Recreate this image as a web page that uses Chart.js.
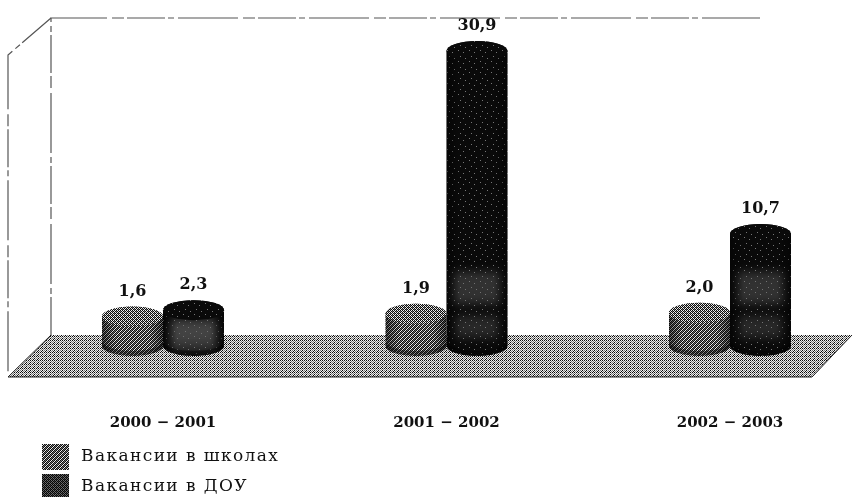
<!DOCTYPE html>
<html><head><meta charset="utf-8">
<style>html,body{margin:0;padding:0;background:#fff;overflow:hidden}#wrap{width:853px;height:499px;position:relative}</style>
<script src="https://cdn.jsdelivr.net/npm/chart.js@4/dist/chart.umd.min.js"></script>
</head><body><div id="wrap"><canvas id="c" width="853" height="499"></canvas></div>
<script>
const years=['2000 − 2001','2001 − 2002','2002 − 2003'];
const schoolVacancies=[1.6,1.9,2.0];
const preschoolVacancies=[2.3,30.9,10.7];
const seriesNames=['Вакансии в школах','Вакансии в ДОУ'];
const yFloor=-1.66, yTop=34;
const serif='"DejaVu Serif","Liberation Serif",serif';

// small halftone tiles, the scan is all black dots on white
function tile(rows){
  const n=rows.length,t=document.createElement('canvas');t.width=rows[0].length;t.height=n;
  const g=t.getContext('2d');
  rows.forEach((r,y)=>[...r].forEach((ch,x)=>{g.fillStyle=ch==='#'?'#0a0a0a':ch==='+'?'#777':'#eee';g.fillRect(x,y,1,1);}));
  return g.canvas;
}
const floorTile=tile(['#.#.','.+.+','+.#.','.#.+']);
const lightTile=tile(['#+#.','+#.#','#.#+','.#+#']);
const midTile=tile(['#.#.','.#+#','#.#.','+#.#']);
const darkTile=tile(['###########','#########+#','###########','###+#######','###########','###########','#######+###','###########','#+#########','###########','###########']);

function cyl(ctx,x,top,base,w,ry,fill,band){
  const l=x-w/2,r=x+w/2;
  ctx.save();
  ctx.beginPath();
  ctx.moveTo(l,top);ctx.lineTo(l,base);
  ctx.ellipse(x,base,w/2,ry,0,Math.PI,0,true);
  ctx.lineTo(r,top);
  ctx.ellipse(x,top,w/2,ry,0,0,Math.PI,true);
  ctx.closePath();
  ctx.fillStyle=ctx.createPattern(fill,'repeat');ctx.fill();
  ctx.clip();
  if(band){
    // the lighter mottled patches low on the dark cylinders
    ctx.fillStyle=ctx.createPattern(midTile,'repeat');
    ctx.filter='blur(5px)';
    ctx.globalAlpha=.4;
    ctx.fillRect(l+6,Math.max(top+ry,272),w-12,32);
    ctx.globalAlpha=.3;
    ctx.fillRect(l+8,Math.max(top+ry,316),w-16,22);
    ctx.globalAlpha=1;
    ctx.filter='none';
  }
  // darker sides and lower rim
  const g=ctx.createLinearGradient(l,0,r,0);
  g.addColorStop(0,'rgba(0,0,0,.5)');g.addColorStop(.22,'rgba(0,0,0,0)');
  g.addColorStop(.78,'rgba(0,0,0,0)');g.addColorStop(1,'rgba(0,0,0,.5)');
  ctx.fillStyle=g;ctx.fillRect(l,top-ry,w,base-top+2*ry);
  ctx.fillStyle='rgba(0,0,0,.4)';
  ctx.beginPath();ctx.ellipse(x,base,w/2,ry,0,0,Math.PI);ctx.lineTo(l,base-5);ctx.ellipse(x,base-5,w/2,ry,0,Math.PI,0,true);ctx.closePath();ctx.fill();
  ctx.restore();
  // top cap
  ctx.fillStyle=ctx.createPattern(band?darkTile:midTile,'repeat');
  ctx.beginPath();ctx.ellipse(x,top,w/2,ry,0,0,Math.PI*2);ctx.fill();
}

const scene={
  id:'scene',
  beforeDatasetsDraw(chart){
    const ctx=chart.ctx;
    ctx.save();
    // walls
    ctx.strokeStyle='#555';ctx.lineWidth=1.2;ctx.setLineDash([38,3,6,4,60,5,12,3]);
    ctx.beginPath();ctx.moveTo(51,335);ctx.lineTo(51,18);ctx.lineTo(760,18);ctx.stroke();
    ctx.beginPath();ctx.moveTo(51,18);ctx.lineTo(8,55);ctx.lineTo(8,376);ctx.stroke();
    ctx.setLineDash([]);
    // floor
    ctx.beginPath();ctx.moveTo(51,335);ctx.lineTo(852,335);ctx.lineTo(812,377);ctx.lineTo(8,377);ctx.closePath();
    ctx.fillStyle=ctx.createPattern(floorTile,'repeat');ctx.fill();
    ctx.strokeStyle='#222';ctx.lineWidth=1;
    ctx.beginPath();ctx.moveTo(51,335);ctx.lineTo(8,377);ctx.lineTo(812,377);ctx.lineTo(852,335);ctx.stroke();
    ctx.restore();
  },
  afterDatasetsDraw(chart){
    const ctx=chart.ctx;
    const a=chart.getDatasetMeta(0).data,b=chart.getDatasetMeta(1).data;
    a.forEach((el,i)=>{
      cyl(ctx,el.x,el.y,el.base,el.width,10,lightTile,false);
      cyl(ctx,b[i].x,b[i].y,b[i].base,b[i].width,10,darkTile,true);
    });
    ctx.save();
    ctx.fillStyle='#111';ctx.font='bold 16px '+serif;ctx.textAlign='center';ctx.textBaseline='middle';
    [[a,schoolVacancies],[b,preschoolVacancies]].forEach(([els,vals])=>els.forEach((el,i)=>{
      ctx.fillText(vals[i].toFixed(1).replace('.',','),el.x,el.y-25);
    }));
    // legend
    ctx.textAlign='left';ctx.font='17px '+serif;ctx.letterSpacing='1.4px';
    seriesNames.forEach((s,i)=>{
      const y=457+i*30;
      ctx.fillStyle=ctx.createPattern(i?midTile:lightTile,'repeat');ctx.fillRect(42,y-13,27,i?23:26);
      if(i){ctx.fillStyle='rgba(0,0,0,.55)';ctx.fillRect(42,y-13,27,23);}
      ctx.fillStyle='#111';ctx.fillText(s,81,y);
    });
    ctx.restore();
  }
};

new Chart(document.getElementById('c'),{
  type:'bar',
  data:{labels:years,datasets:[
    {label:seriesNames[0],data:schoolVacancies,base:yFloor,backgroundColor:'transparent',barThickness:61,clip:false},
    {label:seriesNames[1],data:preschoolVacancies,base:yFloor,backgroundColor:'transparent',barThickness:61,clip:false}
  ]},
  options:{
    responsive:false,animation:false,
    layout:{padding:{left:163,right:123,top:23,bottom:0}},
    plugins:{legend:{display:false},tooltip:{enabled:false},title:{display:false}},
    scales:{
      x:{offset:false,grid:{display:false},border:{display:false},
        afterFit(s){s.height=153;},
        ticks:{padding:60,maxRotation:0,autoSkip:false,color:'#111',font:{family:serif,size:15,weight:'bold'}}},
      y:{display:false,min:yFloor,max:yTop}
    }
  },
  plugins:[scene]
});
</script></body></html>
